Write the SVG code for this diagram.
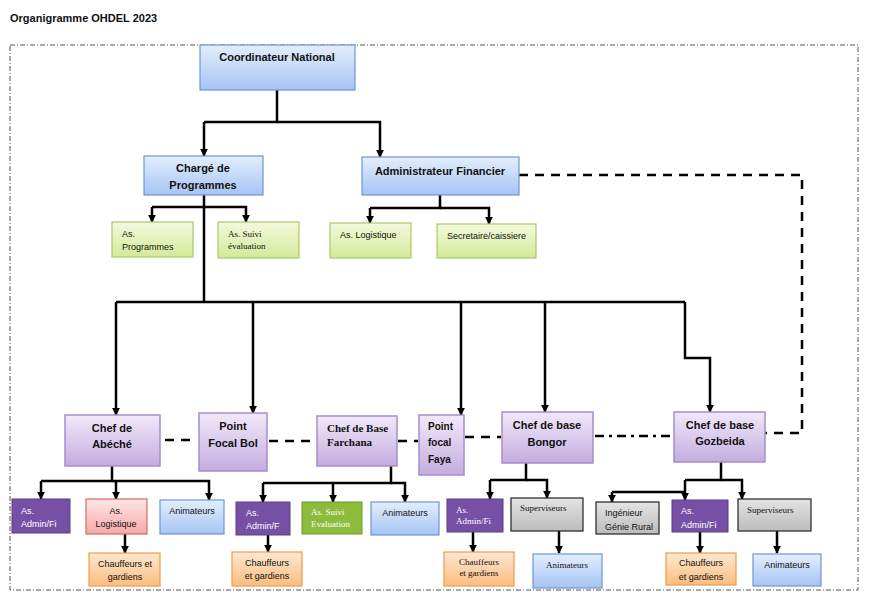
<svg xmlns="http://www.w3.org/2000/svg" width="881" height="612" viewBox="0 0 881 612">
<defs>
<linearGradient id="gb" x1="0" y1="0" x2="0" y2="1"><stop offset="0" stop-color="#e4eefd"/><stop offset="1" stop-color="#a5c4f4"/></linearGradient>
<linearGradient id="gp" x1="0" y1="0" x2="0" y2="1"><stop offset="0" stop-color="#f1e9f9"/><stop offset="1" stop-color="#c4acdf"/></linearGradient>
<linearGradient id="gg" x1="0" y1="0" x2="0" y2="1"><stop offset="0" stop-color="#f3f9dd"/><stop offset="1" stop-color="#d3ea98"/></linearGradient>
<linearGradient id="gr" x1="0" y1="0" x2="0" y2="1"><stop offset="0" stop-color="#ffe6e6"/><stop offset="1" stop-color="#f6a8a8"/></linearGradient>
<linearGradient id="go" x1="0" y1="0" x2="0" y2="1"><stop offset="0" stop-color="#fde8d2"/><stop offset="1" stop-color="#fbbd80"/></linearGradient>
<linearGradient id="gy" x1="0" y1="0" x2="0" y2="1"><stop offset="0" stop-color="#e4e4e4"/><stop offset="1" stop-color="#bcbcbc"/></linearGradient>
<marker id="ar" viewBox="0 0 10 10" refX="9" refY="5" markerWidth="3.2" markerHeight="3.2" orient="auto"><path d="M0,0L10,5L0,10z" fill="#000"/></marker>
</defs>
<style>
text{font-family:"Liberation Sans",Arial,sans-serif;font-size:9px;fill:#111}
.b{font-weight:bold;font-size:11px}
.s{font-family:"Liberation Serif","Times New Roman",serif}
.w{fill:#fff}
.blue{fill:url(#gb);stroke:#6d95d5;stroke-width:1.2}
.pur{fill:url(#gp);stroke:#a58fc9;stroke-width:1.5}
.grn{fill:url(#gg);stroke:#a9c96a;stroke-width:1.2}
.red{fill:url(#gr);stroke:#d46a6a;stroke-width:1.2}
.org{fill:url(#go);stroke:#f09a45;stroke-width:1.2}
.gry{fill:url(#gy);stroke:#222;stroke-width:1.2}
.dp{fill:#7650a5;stroke:#5d3d88;stroke-width:1}
.dg{fill:#8dbb3b;stroke:#6d9a28;stroke-width:1}
.c path{fill:none;stroke:#000;stroke-width:2.5}
.c .a{marker-end:url(#ar)}
.d path{fill:none;stroke:#000;stroke-width:2.5;stroke-dasharray:9,7}
</style>
<text x="10" y="22" class="b" style="font-size:11px">Organigramme OHDEL 2023</text>
<rect x="10" y="45" width="848" height="545" fill="none" stroke="#555" stroke-width="1" stroke-dasharray="5,2,1,2"/>
<g class="c">
<path d="M277,90V122H204"/><path class="a" d="M204,122V156"/><path class="a" d="M277,122H380V157"/>
<path d="M204,195V302"/><path d="M204,207H152"/><path class="a" d="M152,207V222"/><path class="a" d="M204,207H246V222"/>
<path d="M440,195V208H370"/><path class="a" d="M370,208V223"/><path class="a" d="M440,208H489V224"/>
<path d="M116,302H685"/><path class="a" d="M116,302V415"/><path class="a" d="M253,302V413"/><path class="a" d="M461,302V415"/><path class="a" d="M545,302V412"/><path class="a" d="M685,302V358H710V412"/>
<path d="M112,466V481H41"/><path class="a" d="M41,481V499"/><path class="a" d="M116,481V499"/><path class="a" d="M112,481H209V500"/><path class="a" d="M125,534V553"/>
<path d="M391,466V483H263"/><path class="a" d="M263,483V502"/><path class="a" d="M333,483V502"/><path class="a" d="M391,483H405V502"/><path class="a" d="M268,535V552"/>
<path d="M526,463V480H490"/><path class="a" d="M490,480V499"/><path class="a" d="M526,480H547V498"/><path class="a" d="M473,532V552"/><path class="a" d="M559,531V553"/>
<path d="M721,462V480H685"/><path class="a" d="M685,480V500"/><path class="a" d="M721,480H742V499"/><path d="M685,492H612"/><path class="a" d="M612,492V502"/><path class="a" d="M700,532V553"/><path class="a" d="M777,531V553"/>
</g>
<g class="d">
<path d="M519,175H802V433H765"/><path d="M165,440H197"/><path d="M269,441H316"/><path d="M398,441H418"/><path d="M465,437H501"/><path d="M595,436H674" style="stroke-dasharray:9,5,3,5"/>
</g>
<g id="coord"><rect class="blue" x="200" y="45" width="155" height="45"/><text class="b" x="277" y="61" text-anchor="middle">Coordinateur National</text></g>
<g id="charge"><rect class="blue" x="144" y="156" width="119" height="39"/><text class="b" x="203" y="172" text-anchor="middle">Chargé de</text><text class="b" x="203" y="189" text-anchor="middle">Programmes</text></g>
<g id="admin"><rect class="blue" x="362" y="157" width="157" height="38"/><text class="b" x="440" y="175" text-anchor="middle">Administrateur Financier</text></g>
<g id="asprog"><rect class="grn" x="112" y="222" width="81" height="35"/><text x="122" y="237">As.</text><text x="122" y="250">Programmes</text></g>
<g id="assuivi"><rect class="grn" x="218" y="222" width="81" height="36"/><text class="s" x="228" y="237">As. Suivi</text><text class="s" x="228" y="249">évaluation</text></g>
<g id="aslog"><rect class="grn" x="330" y="223" width="81" height="35"/><text x="340" y="238">As. Logistique</text></g>
<g id="secr"><rect class="grn" x="437" y="224" width="99" height="34"/><text x="447" y="239">Secretaire/caissiere</text></g>
<g id="abeche"><rect class="pur" x="65" y="415" width="95" height="51"/><text class="b" x="112" y="432" text-anchor="middle">Chef de</text><text class="b" x="112" y="448" text-anchor="middle">Abéché</text></g>
<g id="bol"><rect class="pur" x="199" y="413" width="68" height="58"/><text class="b" x="233" y="430" text-anchor="middle">Point</text><text class="b" x="233" y="447" text-anchor="middle">Focal Bol</text></g>
<g id="farchana"><rect class="pur" x="317" y="416" width="80" height="50"/><text class="b s" x="327" y="432">Chef de Base</text><text class="b s" x="327" y="446">Farchana</text></g>
<g id="faya"><rect class="pur" x="419" y="415" width="45" height="60"/><text class="b" x="428" y="430" style="font-size:10px">Point</text><text class="b" x="428" y="446" style="font-size:10px">focal</text><text class="b" x="428" y="463" style="font-size:10px">Faya</text></g>
<g id="bongor"><rect class="pur" x="502" y="412" width="91" height="51"/><text class="b" x="547" y="429" text-anchor="middle">Chef de base</text><text class="b" x="547" y="446" text-anchor="middle">Bongor</text></g>
<g id="gozbeida"><rect class="pur" x="674" y="412" width="91" height="50"/><text class="b" x="720" y="429" text-anchor="middle">Chef de base</text><text class="b" x="720" y="445" text-anchor="middle">Gozbeida</text></g>
<g id="a1"><rect class="dp" x="12" y="499" width="58" height="34"/><text class="w" x="21" y="514">As.</text><text class="w" x="21" y="527">Admin/Fi</text></g>
<g id="a2"><rect class="red" x="86" y="499" width="61" height="35"/><text x="116" y="514" text-anchor="middle">As.</text><text x="116" y="527" text-anchor="middle">Logistique</text></g>
<g id="a3"><rect class="blue" x="160" y="500" width="64" height="34"/><text x="192" y="514" text-anchor="middle">Animateurs</text></g>
<g id="a4"><rect class="org" x="89" y="553" width="71" height="33"/><text x="125" y="567" text-anchor="middle">Chauffeurs et</text><text x="125" y="580" text-anchor="middle">gardiens</text></g>
<g id="b1"><rect class="dp" x="236" y="502" width="54" height="33"/><text class="w" x="246" y="516">As.</text><text class="w" x="246" y="529">Admin/F</text></g>
<g id="b2"><rect class="dg" x="302" y="502" width="60" height="32"/><text class="s w" x="311" y="515">As. Suivi</text><text class="s w" x="311" y="527">Evaluation</text></g>
<g id="b3"><rect class="blue" x="371" y="502" width="68" height="33"/><text x="405" y="516" text-anchor="middle">Animateurs</text></g>
<g id="b4"><rect class="org" x="232" y="552" width="70" height="34"/><text x="267" y="566" text-anchor="middle">Chauffeurs</text><text x="267" y="579" text-anchor="middle">et gardiens</text></g>
<g id="c1"><rect class="dp" x="447" y="499" width="56" height="33"/><text class="s w" x="456" y="513">As.</text><text class="s w" x="456" y="524">Admin/Fi</text></g>
<g id="c2"><rect class="gry" x="511" y="498" width="72" height="33"/><text class="s" x="520" y="511">Superviseurs</text></g>
<g id="c3"><rect class="org" x="444" y="552" width="70" height="34"/><text class="s" x="479" y="565" text-anchor="middle">Chauffeurs</text><text class="s" x="479" y="576" text-anchor="middle">et gardiens</text></g>
<g id="c4"><rect class="blue" x="533" y="554" width="69" height="34"/><text class="s" x="567" y="568" text-anchor="middle">Animateurs</text></g>
<g id="d1"><rect class="gry" x="596" y="502" width="63" height="32"/><text x="605" y="516">Ingénieur</text><text x="605" y="530">Génie Rural</text></g>
<g id="d2"><rect class="dp" x="672" y="500" width="56" height="32"/><text class="w" x="681" y="514">As.</text><text class="w" x="681" y="528">Admin/Fi</text></g>
<g id="d3"><rect class="gry" x="738" y="499" width="73" height="32"/><text class="s" x="747" y="513">Superviseurs</text></g>
<g id="d4"><rect class="org" x="666" y="553" width="70" height="32"/><text x="701" y="566" text-anchor="middle">Chauffeurs</text><text x="701" y="580" text-anchor="middle">et gardiens</text></g>
<g id="d5"><rect class="blue" x="753" y="554" width="68" height="32"/><text x="787" y="568" text-anchor="middle">Animateurs</text></g>
</svg>
